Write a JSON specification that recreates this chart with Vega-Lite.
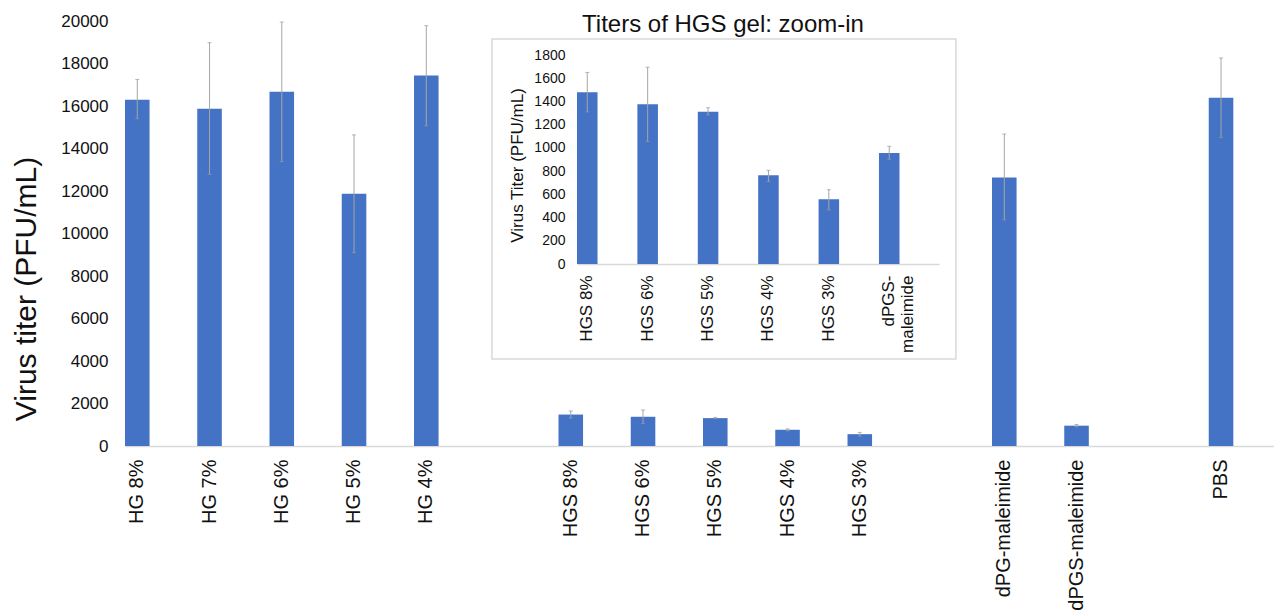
{
  "$schema": "https://vega.github.io/schema/vega-lite/v6.json",
  "width": 1156,
  "height": 425,
  "autosize": "none",
  "padding": {"left": 125, "top": 21, "right": 0, "bottom": 168},
  "background": "white",
  "config": {
    "view": {"stroke": null},
    "font": "Liberation Sans",
    "axis": {"labelFont": "Liberation Sans", "titleFont": "Liberation Sans", "labelColor": "#111", "titleColor": "#111", "grid": false, "ticks": false}
  },
  "datasets": {
    "main": [
      {"cat": "HG 8%", "v": 16300, "lo": 15400, "hi": 17250},
      {"cat": "HG 7%", "v": 15870, "lo": 12780, "hi": 18980},
      {"cat": "HG 6%", "v": 16670, "lo": 13380, "hi": 19950},
      {"cat": "HG 5%", "v": 11870, "lo": 9100, "hi": 14640},
      {"cat": "HG 4%", "v": 17430, "lo": 15070, "hi": 19780},
      {"cat": "HGS 8%", "v": 1480, "lo": 1310, "hi": 1650},
      {"cat": "HGS 6%", "v": 1375, "lo": 1055, "hi": 1695},
      {"cat": "HGS 5%", "v": 1312, "lo": 1283, "hi": 1346},
      {"cat": "HGS 4%", "v": 764, "lo": 710, "hi": 807},
      {"cat": "HGS 3%", "v": 557, "lo": 465, "hi": 640},
      {"cat": "dPG-maleimide", "v": 12640, "lo": 10640, "hi": 14680},
      {"cat": "dPGS-maleimide", "v": 956, "lo": 902, "hi": 1014},
      {"cat": "PBS", "v": 16390, "lo": 14510, "hi": 18260}
    ],
    "inset": [
      {"cat": "HGS 8%", "v": 1480, "lo": 1310, "hi": 1650},
      {"cat": "HGS 6%", "v": 1375, "lo": 1055, "hi": 1695},
      {"cat": "HGS 5%", "v": 1312, "lo": 1283, "hi": 1346},
      {"cat": "HGS 4%", "v": 764, "lo": 710, "hi": 807},
      {"cat": "HGS 3%", "v": 557, "lo": 465, "hi": 640},
      {"cat": "dPGS-maleimide", "v": 956, "lo": 902, "hi": 1014}
    ]
  },
  "layer": [
    {
      "data": {"name": "main"},
      "encoding": {
        "x": {
          "field": "cat",
          "type": "nominal",
          "scale": {
            "domain": ["HG 8%", "HG 7%", "HG 6%", "HG 5%", "HG 4%", "gap1", "HGS 8%", "HGS 6%", "HGS 5%", "HGS 4%", "HGS 3%", "gap2", "dPG-maleimide", "dPGS-maleimide", "gap3", "PBS"],
            "paddingInner": 0.66,
            "paddingOuter": 0.33,
            "align": 0
          },
          "axis": {
            "title": null,
            "labelExpr": "indexof(datum.value, 'gap') == 0 ? '' : datum.label",
            "labelAngle": -90,
            "labelFontSize": 20,
            "labelPadding": 13,
            "labelOverlap": false,
            "labelLimit": 0,
            "domainColor": "#d9d9d9",
            "domainWidth": 1.5
          }
        }
      },
      "layer": [
        {
          "mark": {"type": "bar", "color": "#4472c4"},
          "encoding": {
            "y": {
              "field": "v",
              "type": "quantitative",
              "scale": {"domain": [0, 20000], "nice": false},
              "axis": {
                "values": [0, 2000, 4000, 6000, 8000, 10000, 12000, 14000, 16000, 18000, 20000],
                "format": "d",
                "domain": false,
                "labelFontSize": 17,
                "labelPadding": 17,
                "title": "Virus titer (PFU/mL)",
                "titleFontSize": 30,
                "titleFontWeight": "normal",
                "titleAngle": -90,
                "titleX": -90,
                "titleY": 267.5,
                "titleAlign": "center",
                "titleBaseline": "alphabetic"
              }
            }
          }
        },
        {
          "mark": {"type": "rule", "color": "#a6a6a6", "strokeWidth": 1},
          "encoding": {
            "y": {"field": "lo", "type": "quantitative"},
            "y2": {"field": "hi"}
          }
        },
        {
          "mark": {"type": "tick", "color": "#999999", "size": 4, "thickness": 1},
          "encoding": {"y": {"field": "hi", "type": "quantitative"}}
        },
        {
          "mark": {"type": "tick", "color": "#999999", "size": 4, "thickness": 1},
          "encoding": {"y": {"field": "lo", "type": "quantitative"}}
        }
      ]
    },
    {
      "layer": [
        {
          "data": {"values": [{}]},
          "mark": {"type": "rect", "fillOpacity": 0, "stroke": "#d9d9d9", "strokeWidth": 1.5},
          "encoding": {
            "x": {"datum": -1.41, "type": "quantitative", "scale": {"domain": [0, 6], "range": [452, 814], "nice": false, "zero": false}, "axis": null},
            "x2": {"datum": 6.28},
            "y": {"datum": 1938, "type": "quantitative", "scale": {"domain": [0, 1800], "range": [243, 34], "nice": false, "zero": false}, "axis": null},
            "y2": {"datum": -818}
          }
        },
        {
          "data": {"name": "inset"},
          "encoding": {
            "x": {
              "field": "cat",
              "type": "nominal",
              "sort": null,
              "scale": {
                "domain": ["HGS 8%", "HGS 6%", "HGS 5%", "HGS 4%", "HGS 3%", "dPGS-maleimide"],
                "range": [452, 814],
                "paddingInner": 0.66,
                "paddingOuter": 0.327,
                "align": 0
              },
              "axis": {
                "orient": "bottom",
                "offset": -182,
                "labelAngle": -90,
                "labelFontSize": 17,
                "labelPadding": 11,
                "labelLimit": 0,
                "labelOverlap": false,
                "labelExpr": "datum.value == 'dPGS-maleimide' ? ['dPGS-', 'maleimide'] : datum.label",
                "domainColor": "#d9d9d9",
                "domainWidth": 1.5,
                "title": "Titers of HGS gel: zoom-in",
                "titleFontSize": 24,
                "titleFontWeight": "normal",
                "titleAngle": 0,
                "titleX": 597.5,
                "titleY": -232.3,
                "titleAlign": "center",
                "titleBaseline": "alphabetic"
              }
            }
          },
          "layer": [
            {
              "mark": {"type": "bar", "color": "#4472c4"},
              "encoding": {
                "y": {
                  "field": "v",
                  "type": "quantitative",
                  "scale": {"domain": [0, 1800], "range": [243, 34], "nice": false, "zero": false},
                  "axis": {
                    "orient": "left",
                    "offset": -452,
                    "values": [0, 200, 400, 600, 800, 1000, 1200, 1400, 1600, 1800],
                    "format": "d",
                    "domain": false,
                    "labelFontSize": 14,
                    "labelPadding": 12,
                    "title": "Virus Titer (PFU/mL)",
                    "titleFontSize": 17,
                    "titleFontWeight": "normal",
                    "titleAngle": -90,
                    "titleX": -55,
                    "titleY": 144,
                    "titleAlign": "center",
                    "titleBaseline": "alphabetic"
                  }
                }
              }
            },
            {
              "mark": {"type": "rule", "color": "#a6a6a6", "strokeWidth": 1},
              "encoding": {
                "y": {"field": "lo", "type": "quantitative"},
                "y2": {"field": "hi"}
              }
            },
            {
              "mark": {"type": "tick", "color": "#999999", "size": 4, "thickness": 1},
              "encoding": {"y": {"field": "hi", "type": "quantitative"}}
            },
            {
              "mark": {"type": "tick", "color": "#999999", "size": 4, "thickness": 1},
              "encoding": {"y": {"field": "lo", "type": "quantitative"}}
            }
          ]
        }
      ],
      "resolve": {"scale": {"x": "independent", "y": "independent"}}
    }
  ],
  "resolve": {"scale": {"x": "independent", "y": "independent"}, "axis": {"x": "independent", "y": "independent"}}
}
